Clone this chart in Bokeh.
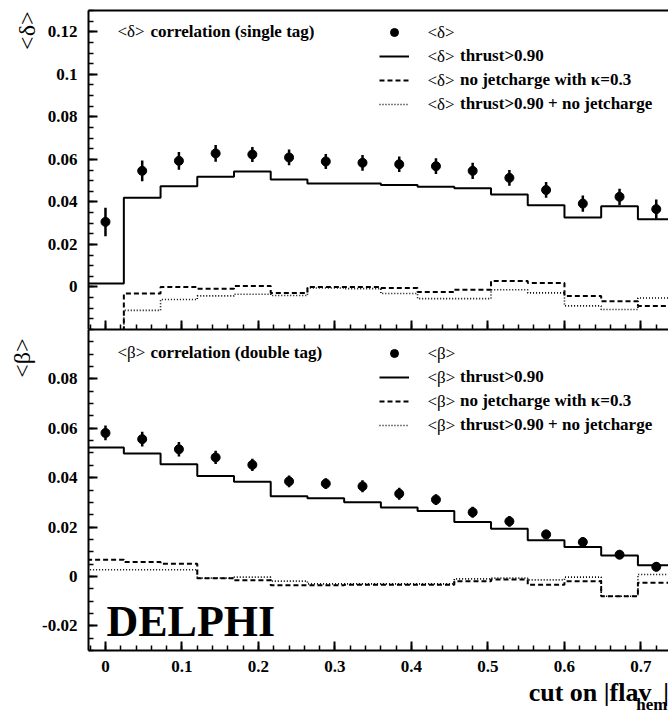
import numpy as np
from bokeh.plotting import figure
from bokeh.models import (Range1d, LinearAxis, FixedTicker, CustomJSTickFormatter,
                          Label, Legend, LegendItem, Title)
from bokeh.layouts import column
from bokeh.embed import file_html
from bokeh.resources import INLINE

# ---------------- data ----------------
cut = [0.000, 0.048, 0.096, 0.144, 0.192, 0.240, 0.288, 0.336,
       0.384, 0.432, 0.480, 0.528, 0.576, 0.624, 0.672, 0.720]
bin_half_width = 0.024

delta_mean = [0.0306, 0.0546, 0.0593, 0.0628, 0.0623, 0.0609, 0.0590, 0.0584,
              0.0577, 0.0568, 0.0546, 0.0513, 0.0456, 0.0392, 0.0424, 0.0366]
delta_err = [0.0067, 0.0049, 0.0042, 0.0039, 0.0035, 0.0037, 0.0035, 0.0037,
             0.0036, 0.0037, 0.0038, 0.0037, 0.0037, 0.0038, 0.0038, 0.0045]
delta_thrust = [0.0016, 0.0419, 0.0474, 0.0518, 0.0543, 0.0505, 0.0487, 0.0487,
                0.0480, 0.0471, 0.0464, 0.0435, 0.0384, 0.0327, 0.0380, 0.0319]
delta_nojet = [-0.0300, -0.0031, 0.0000, -0.0008, 0.0005, -0.0028, 0.0000, 0.0000,
               -0.0005, -0.0024, -0.0013, 0.0028, 0.0019, -0.0042, -0.0067, -0.0089]
delta_thrust_nojet = [-0.0300, -0.0110, -0.0059, -0.0042, -0.0034, -0.0040, -0.0005, -0.0008,
                      -0.0031, -0.0055, -0.0055, -0.0013, -0.0028, -0.0089, -0.0106, -0.0052]

beta_mean = [0.0581, 0.0556, 0.0515, 0.0482, 0.0452, 0.0385, 0.0376, 0.0365,
             0.0335, 0.0311, 0.0260, 0.0223, 0.0170, 0.0139, 0.0088, 0.0039]
beta_err = [0.0030, 0.0030, 0.0029, 0.0027, 0.0025, 0.0024, 0.0022, 0.0024,
            0.0024, 0.0022, 0.0022, 0.0022, 0.0019, 0.0020, 0.0017, 0.0018]
beta_thrust = [0.0522, 0.0498, 0.0454, 0.0407, 0.0383, 0.0325, 0.0317, 0.0300,
               0.0279, 0.0265, 0.0220, 0.0193, 0.0146, 0.0119, 0.0085, 0.0045]
beta_nojet = [0.0068, 0.0058, 0.0051, -0.0007, -0.0016, -0.0036, -0.0036, -0.0034,
              -0.0034, -0.0034, -0.0020, -0.0012, -0.0034, -0.0020, -0.0080, -0.0026]
beta_thrust_nojet = [0.0027, 0.0027, 0.0027, -0.0007, -0.0003, -0.0019, -0.0030, -0.0030,
                     -0.0030, -0.0030, -0.0010, -0.0007, -0.0014, -0.0003, -0.0080, 0.0008]

x_major = [0.0, 0.1, 0.2, 0.3, 0.4, 0.5, 0.6, 0.7]
top_y_major = [0.0, 0.02, 0.04, 0.06, 0.08, 0.10, 0.12]
bot_y_major = [-0.02, 0.0, 0.02, 0.04, 0.06, 0.08]

legend_texts = ["", "thrust>0.90", "no jetcharge with \u03ba=0.3",
                "thrust>0.90 + no jetcharge"]

FONT = "Liberation Serif"
FMT = CustomJSTickFormatter(code="return String(Number(tick.toFixed(4)));")
BLANK = CustomJSTickFormatter(code="return '';")

X0, X1 = -0.0222, 0.7360

LEG_X, LEG_TOP, ROW = 291, 307, 24


def edges(c):
    c = np.asarray(c)
    return list(c - bin_half_width) + [c[-1] + bin_half_width]


def hold(v):
    return list(v) + [v[-1]]


def style_axes(p, y_major, y_lo, y_hi, show_x_labels):
    p.xgrid.visible = False
    p.ygrid.visible = False
    p.outline_line_color = None
    xa = p.xaxis[0]
    xa.ticker = FixedTicker(ticks=x_major,
                            minor_ticks=list(np.round(np.arange(-0.02, 0.7401, 0.02), 4)))
    xa.major_tick_in = 9
    xa.major_tick_out = 0
    xa.minor_tick_in = 5
    xa.minor_tick_out = 0
    xa.axis_line_width = 2
    xa.major_tick_line_width = 2
    xa.minor_tick_line_width = 1.5
    xa.major_label_text_font = FONT
    xa.major_label_text_font_style = "bold"
    xa.major_label_text_color = "black"
    if show_x_labels:
        xa.formatter = FMT
        xa.major_label_text_font_size = "17px"
        xa.major_label_standoff = 10
    else:
        xa.formatter = BLANK
        xa.major_label_text_font_size = "0px"
        xa.major_label_standoff = 0
    ya = p.yaxis[0]
    ya.ticker = FixedTicker(ticks=y_major,
                            minor_ticks=list(np.round(np.arange(y_lo, y_hi + 0.0001, 0.005), 4)))
    ya.formatter = FMT
    ya.major_tick_in = 9
    ya.major_tick_out = 0
    ya.minor_tick_in = 5
    ya.minor_tick_out = 0
    ya.axis_line_width = 2
    ya.major_tick_line_width = 2
    ya.minor_tick_line_width = 1.5
    ya.major_label_text_font = FONT
    ya.major_label_text_font_style = "bold"
    ya.major_label_text_font_size = "17px"
    ya.major_label_text_color = "black"
    ya.major_label_standoff = 11
    ta = LinearAxis(ticker=FixedTicker(ticks=[]), major_tick_in=0, major_tick_out=0,
                    minor_tick_in=0, minor_tick_out=0, axis_line_width=2,
                    formatter=BLANK,
                    major_label_text_font_size="0px", major_label_standoff=0)
    p.add_layout(ta, "above")


def panel(p, mean, err, thrust, nojet, thrust_nojet, sym, title, title_y, ytitle_offset):
    e = edges(cut)
    lo = np.asarray(mean) - np.asarray(err)
    hi = np.asarray(mean) + np.asarray(err)
    r_solid = p.step(e, hold(thrust), mode="after", line_color="black", line_width=2)
    r_dash = p.step(e, hold(nojet), mode="after", line_color="black", line_width=2,
                    line_dash="5 3")
    r_dot = p.step(e, hold(thrust_nojet), mode="after", line_color="black", line_width=1.6,
                   line_dash="1 2")
    p.segment(cut, lo, cut, hi, line_color="black", line_width=2.5)
    r_pts = p.scatter(cut, mean, size=9, color="black")
    rends = [r_pts, r_solid, r_dash, r_dot]
    items = [LegendItem(label=t, renderers=[r]) for t, r in zip(legend_texts, rends)]
    leg = Legend(items=items, location=(LEG_X, LEG_TOP - (4 * 20 + 3 * (ROW - 20))),
                 glyph_width=30, glyph_height=20,
                 label_height=20, label_standoff=51, spacing=ROW - 20, padding=0, margin=0,
                 border_line_color=None, background_fill_alpha=0,
                 label_text_font=FONT, label_text_font_style="bold",
                 label_text_font_size="17px", label_text_color="black")
    p.add_layout(leg)
    # symbol part of the legend texts (regular weight)
    for i in range(4):
        p.add_layout(Label(x=LEG_X + 30 + 18, y=LEG_TOP - 10 - i * ROW,
                           x_units="screen", y_units="screen", text="<%s>" % sym,
                           text_color="black", text_font=FONT, text_font_size="17px",
                           text_baseline="middle", text_align="left"))
    # panel title: regular symbol + bold words
    p.add_layout(Label(x=0.0157, y=title_y, text="<%s>" % sym, text_color="black",
                       text_font=FONT, text_font_size="17px",
                       text_baseline="middle", text_align="left"))
    p.add_layout(Label(x=0.0157 + 33 / 765.0, y=title_y, text=title, text_color="black",
                       text_font=FONT, text_font_style="bold", text_font_size="17px",
                       text_baseline="middle", text_align="left"))
    p.add_layout(Title(text="<%s>" % sym, align="right", text_font=FONT,
                       text_font_style="normal", text_font_size="24px",
                       text_color="black", standoff=9, offset=ytitle_offset), "left")


top = figure(width=668, height=329, x_range=Range1d(X0, X1), y_range=Range1d(-0.02, 0.13),
             output_backend="svg", toolbar_location=None,
             min_border_left=88, min_border_right=0, min_border_top=10, min_border_bottom=0)
style_axes(top, top_y_major, -0.02, 0.13, False)
panel(top, delta_mean, delta_err, delta_thrust, delta_nojet, delta_thrust_nojet,
      "\u03b4", "correlation (single tag)", 0.1199, 1)

bot = figure(width=668, height=349, x_range=top.x_range, y_range=Range1d(-0.03, 0.10),
             output_backend="svg", toolbar_location=None,
             min_border_left=88, min_border_right=0, min_border_top=0, min_border_bottom=28)
style_axes(bot, bot_y_major, -0.03, 0.10, True)
panel(bot, beta_mean, beta_err, beta_thrust, beta_nojet, beta_thrust_nojet,
      "\u03b2", "correlation (double tag)", 0.0905, 9)

bot.add_layout(Label(x=0.0013, y=-0.0183, text="DELPHI", text_color="black",
                     text_font=FONT, text_font_style="bold", text_font_size="44px",
                     text_baseline="middle", text_align="left"))

# caption strip with the x-axis title
cap = figure(width=668, height=35, x_range=Range1d(0, 668), y_range=Range1d(0, 35),
             output_backend="svg", toolbar_location=None, x_axis_type=None, y_axis_type=None,
             min_border_left=0, min_border_right=0, min_border_top=0, min_border_bottom=0)
cap.xgrid.visible = False
cap.ygrid.visible = False
cap.outline_line_color = None
cap.add_layout(Label(x=507, y=21.5, text="cut on |flav", text_color="black",
                     text_font=FONT, text_font_style="bold", text_font_size="26px",
                     text_baseline="middle", text_align="left"))
cap.add_layout(Label(x=631, y=9.5, text="hem", text_color="black",
                     text_font=FONT, text_font_style="bold", text_font_size="17px",
                     text_baseline="middle", text_align="left"))
cap.add_layout(Label(x=662, y=21.5, text="|", text_color="black",
                     text_font=FONT, text_font_style="bold", text_font_size="26px",
                     text_baseline="middle", text_align="left"))

layout = column(top, bot, cap, spacing=0)
open("out.html", "w").write(file_html(layout, INLINE))
